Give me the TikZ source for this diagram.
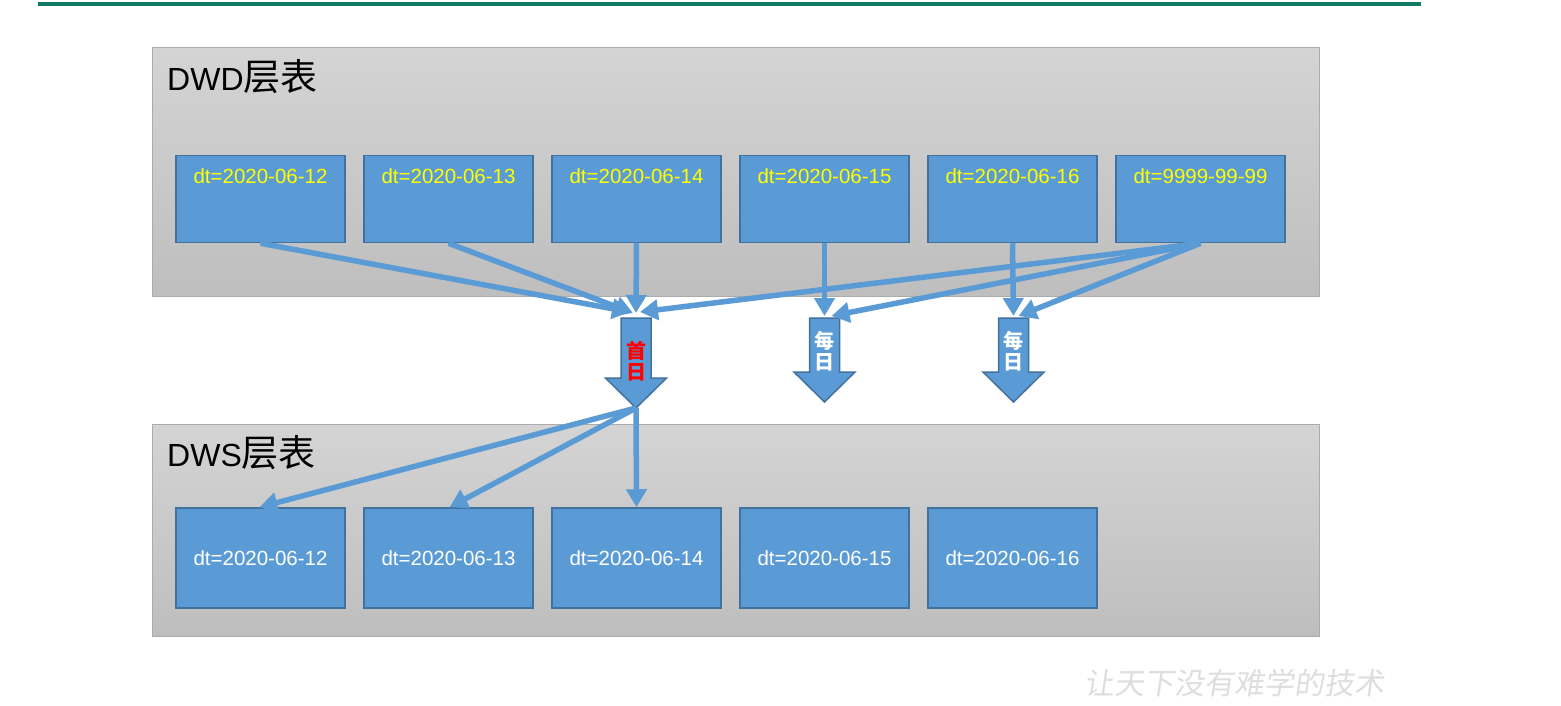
\documentclass[tikz,border=0pt]{standalone}
\usepackage{fontspec}
\setmainfont{Liberation Sans}
\newfontfamily\cjk{Noto Sans CJK SC}
\usetikzlibrary{arrows.meta}
\definecolor{boxblue}{HTML}{5B9BD5}
\definecolor{boxedge}{HTML}{41719C}
\definecolor{topgreen}{HTML}{117A65}
\definecolor{panelTop}{HTML}{D4D4D4}
\definecolor{panelBot}{HTML}{BEBEBE}
\definecolor{paneledge}{HTML}{ABABAB}
\definecolor{txtyellow}{HTML}{FFFF00}
\tikzset{
  panel/.style={draw=paneledge, line width=1pt, top color=panelTop, bottom color=panelBot},
  upbox/.style={draw=boxedge, fill=boxblue, line width=1.5pt, minimum width=169pt, minimum height=87pt, inner sep=0pt},
  upnum/.style={text=txtyellow, font=\fontsize{20.5}{24}\selectfont, inner sep=0pt},
  dnbox/.style={draw=boxedge, fill=boxblue, line width=1.5pt, minimum width=169pt, minimum height=100pt, inner sep=0pt, text=white, font=\fontsize{20.5}{24}\selectfont},
  conn/.style={draw=boxblue, line width=5.5pt, -{Triangle[length=18pt,width=20pt]}},
  blockarrow/.style={draw=boxedge, fill=boxblue, line width=1.5pt, line join=miter},
  paneltitle/.style={anchor=west, inner sep=0pt, font=\fontsize{32}{36}\selectfont},
  arrowtext/.style={font=\cjk\bfseries\fontsize{20}{22}\selectfont, align=center, inner sep=0pt},
}
\begin{document}
\begin{tikzpicture}[x=1pt,y=-1pt]
\useasboundingbox (0,0) rectangle (1561,706);
\fill[white] (0,0) rectangle (1561,706);
% top rule
\draw[topgreen, line width=4pt] (38,4) -- (1421,4);
% panels
\path[panel] (152,48) rectangle (1319,296);
\node[paneltitle] (dwdtitle) at (167,77) {DWD{\cjk\fontsize{37}{40}\selectfont 层表}};
\path[panel] (152,424) rectangle (1319,636);
\node[paneltitle] (dwstitle) at (167,453) {DWS{\cjk\fontsize{37}{40}\selectfont 层表}};
% upper boxes
\foreach \i/\x/\t in {1/260.5/2020-06-12, 2/448.5/2020-06-13, 3/636.5/2020-06-14, 4/824.5/2020-06-15, 5/1012.5/2020-06-16, 6/1200.5/9999-99-99}{
  \node[upbox] (u\i) at (\x,199) {};
  \node[upnum] (ut\i) at (\x,176) {dt=\t};
}
% lower boxes
\foreach \i/\x/\t in {1/260.5/2020-06-12, 2/448.5/2020-06-13, 3/636.5/2020-06-14, 4/824.5/2020-06-15, 5/1012.5/2020-06-16}{
  \node[dnbox] (d\i) at (\x,558) {dt=\t};
}
% block arrows
\foreach \c/\top/\hb/\tip in {636/318/378/408, 824.5/318/372/402, 1013.5/318/372/402}{
  \draw[blockarrow] (\c-15,\top) -- (\c+15,\top) -- (\c+15,\hb) -- (\c+30.5,\hb) -- (\c,\tip) -- (\c-30.5,\hb) -- (\c-15,\hb) -- cycle;
}
\coordinate (atop) at (636,318);
\coordinate (atip) at (636,408);
\coordinate (btop) at (824.5,318);
\coordinate (ctop) at (1013.5,318);
\node[arrowtext, text=red] (shouri) at (636,361) {首\\[-1pt]日};
\node[arrowtext, text=white] (meiri1) at (824.5,351) {每\\[-1pt]日};
\node[arrowtext, text=white] (meiri2) at (1013.5,351) {每\\[-1pt]日};
% connectors to first-day arrow
\draw[conn] (u1.south) -- ([xshift=-6pt,yshift=6pt]atop);
\draw[conn] (u2.south) -- ([xshift=-3pt,yshift=5pt]atop);
\draw[conn] (u3.south) -- ([yshift=5pt]atop);
\draw[conn] (u6.south) -- ([xshift=4pt,yshift=6pt]atop);
% daily
\draw[conn] (u4.south) -- ([yshift=2pt]btop);
\draw[conn] (u6.south) -- ([xshift=7pt,yshift=2pt]btop);
\draw[conn] (u5.south) -- ([yshift=2pt]ctop);
\draw[conn] (u6.south) -- ([xshift=5pt,yshift=2pt]ctop);
% to DWS
\draw[conn] (atip) -- ([xshift=-1pt]d1.north);
\draw[conn] (atip) -- ([xshift=1pt]d2.north);
\draw[conn] (atip) -- (d3.north);
% watermark
\node[text=black!13, font=\cjk\fontsize{30}{32}\selectfont, inner sep=0pt, xslant=0.15] (wm) at (1236,683) {让天下没有难学的技术};
\end{tikzpicture}
\end{document}
